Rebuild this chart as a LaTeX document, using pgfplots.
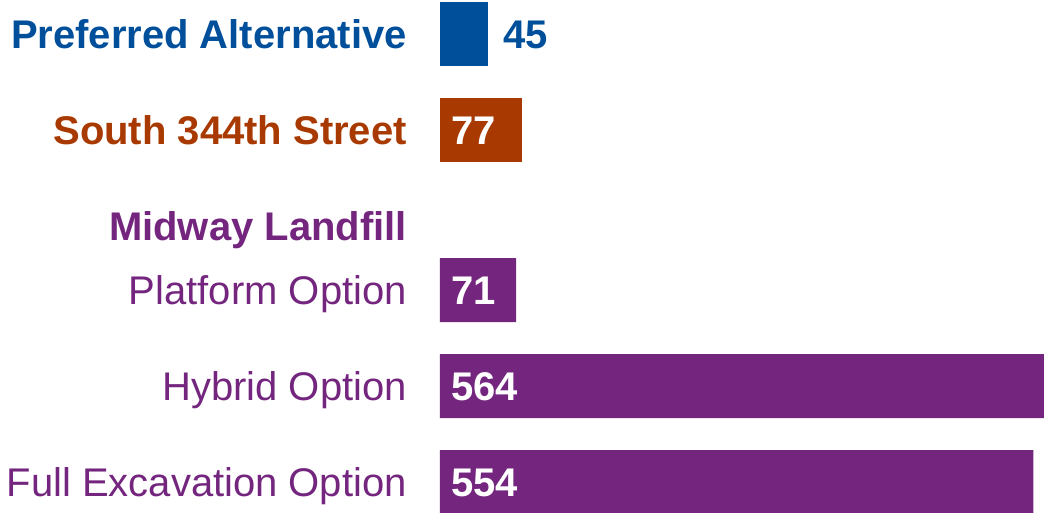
\documentclass[border=0pt]{standalone}
\usepackage{fontspec}
\setmainfont{Liberation Sans}
\usepackage{pgfplots}
\pgfplotsset{compat=1.18}
\definecolor{cblue}{HTML}{004F9B}
\definecolor{corange}{HTML}{A83900}
\definecolor{cpurple}{HTML}{74267F}
\newcommand{\bigfont}{\fontsize{40}{48}\selectfont}
\begin{document}
\begin{tikzpicture}
\useasboundingbox (0,0) rectangle (1044pt,513pt);
\begin{axis}[at={(440pt,0pt)}, anchor=south west, scale only axis,
  width=604pt, height=513pt,
  xmin=0, xmax=564, ymin=0, ymax=513, y dir=reverse,
  axis line style={draw=none}, major tick length=0pt,
  xtick=\empty,
  ytick={34,130,226,290,386,482},
  yticklabels={{\bfseries\color{cblue}Preferred Alternative},
               {\bfseries\color{corange}South 344th Street},
               {\bfseries\color{cpurple}Midway Landfill},
               {\color{cpurple}Platform Option},
               {\color{cpurple}Hybrid Option},
               {\color{cpurple}Full Excavation Option}},
  yticklabel style={font=\bigfont, inner sep=0pt, anchor=base east, xshift=-33pt, yshift=-14.5pt},
]
\addplot[xbar, bar width=64, bar shift=0pt, fill=cblue, draw=none,
  nodes near coords, point meta=explicit symbolic,
  nodes near coords style={font=\bigfont\bfseries, text=cblue, inner sep=0pt, anchor=base west, xshift=15pt, yshift=-14.5pt}]
  coordinates {(45,34)[45]};
\addplot[xbar, bar width=64, bar shift=0pt, fill=corange, draw=none]
  coordinates {(77,130)};
\addplot[xbar, bar width=64, bar shift=0pt, fill=cpurple, draw=none]
  coordinates {(71,290) (564,386) (554,482)};
\addplot[draw=none, mark=none, nodes near coords, point meta=explicit symbolic,
  nodes near coords style={font=\bigfont\bfseries, text=white, inner sep=0pt, anchor=base west, xshift=11pt, yshift=-14.5pt}]
  coordinates {(0,130)[77] (0,290)[71] (0,386)[564] (0,482)[554]};
\end{axis}
\end{tikzpicture}
\end{document}
